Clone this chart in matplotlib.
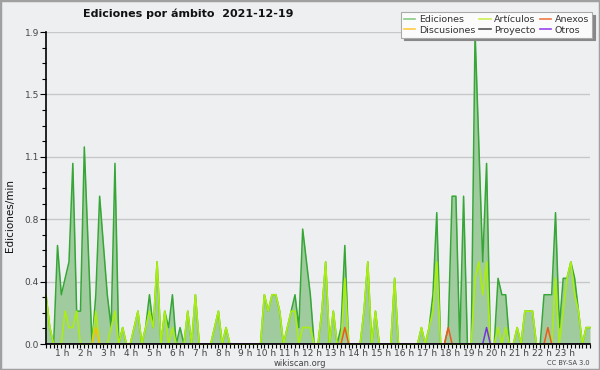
import numpy as np
import matplotlib.pyplot as plt
from matplotlib.patches import Rectangle
from matplotlib.lines import Line2D

plt.rcParams["font.family"] = "DejaVu Sans"

# =========================
# Data (edits per minute, 10-minute bins, 2021-12-19)
# =========================
total = [
    0.3, 0.1, 0, 0.6, 0.3, 0.4, 0.5, 1.1, 0.2, 0.2,
    1.2, 0.6, 0, 0.3, 0.9, 0.6, 0.3, 0.1, 1.1, 0,
    0.1, 0, 0, 0.1, 0.2, 0, 0.1, 0.3, 0.1, 0.5,
    0, 0.2, 0.1, 0.3, 0, 0.1, 0, 0.2, 0, 0.3,
    0, 0, 0, 0, 0.1, 0.2, 0, 0.1, 0, 0,
    0, 0, 0, 0, 0, 0, 0, 0.3, 0.2, 0.3,
    0.3, 0.2, 0, 0.1, 0.2, 0.3, 0.1, 0.7, 0.5, 0.3,
    0, 0, 0.2, 0.5, 0, 0.2, 0, 0.1, 0.6, 0,
    0, 0, 0, 0.2, 0.5, 0, 0.2, 0, 0, 0,
    0, 0.4, 0, 0, 0, 0, 0, 0, 0.1, 0,
    0.1, 0.3, 0.8, 0, 0, 0.1, 0.9, 0.9, 0, 0.9,
    0, 0, 1.9, 1.2, 0.5, 1.1, 0, 0, 0.4, 0.3,
    0.3, 0, 0, 0.1, 0, 0.2, 0.2, 0.2, 0, 0,
    0.3, 0.3, 0.3, 0.8, 0.1, 0.4, 0.4, 0.5, 0.4, 0.2,
    0, 0.1, 0.1,
]

articulos = [
    0.3, 0.1, 0, 0, 0, 0.2, 0.1, 0.1, 0.2, 0,
    0, 0, 0, 0.2, 0, 0, 0, 0.1, 0.2, 0,
    0.1, 0, 0, 0.1, 0.2, 0, 0.1, 0.2, 0.1, 0.5,
    0, 0.2, 0, 0.1, 0, 0, 0, 0.2, 0, 0.3,
    0, 0, 0, 0, 0.1, 0.2, 0, 0.1, 0, 0,
    0, 0, 0, 0, 0, 0, 0, 0.3, 0.2, 0.3,
    0.3, 0.2, 0, 0.1, 0.2, 0.2, 0, 0.1, 0.1, 0.1,
    0, 0, 0.2, 0.5, 0, 0.2, 0, 0, 0.4, 0,
    0, 0, 0, 0.2, 0.5, 0, 0.2, 0, 0, 0,
    0, 0.4, 0, 0, 0, 0, 0, 0, 0.1, 0,
    0.1, 0.2, 0.5, 0, 0, 0, 0, 0, 0, 0,
    0, 0, 0.4, 0.5, 0.3, 0.5, 0, 0, 0.1, 0,
    0.1, 0, 0, 0.1, 0, 0.2, 0.2, 0.2, 0, 0,
    0, 0, 0, 0.4, 0, 0.2, 0.4, 0.5, 0.3, 0.2,
    0, 0.1, 0.1,
]

# sparse series: bin index -> value
discusiones_bins, discusiones_vals = [13], [0.1]
anexos_bins, anexos_vals = [78, 105, 131], [0.1, 0.1, 0.1]
otros_bins, otros_vals = [115], [0.1]
proyecto_bins, proyecto_vals = [], []

hour_labels = [f"{h} h" for h in range(1, 24)]
y_ticks = [0.0, 0.38, 0.76, 1.14, 1.52, 1.9]


def sparse(bins, vals):
    arr = np.zeros(len(total))
    arr[bins] = vals
    return arr


x = np.arange(len(total)) / 6.0

# =========================
# Figure
# =========================
bg = "#eeeff1"
fig = plt.figure(figsize=(6, 3.7), dpi=100, facecolor=bg)
ax = fig.add_axes([46 / 600, 26 / 370, 544 / 600, 312 / 370], facecolor=bg)

ax.fill_between(x, 0, total, color="#9fcb9f", linewidth=0, zorder=1)
ax.plot(x, total, color="#36a636", linewidth=1.1, zorder=2, clip_on=False)
ax.plot(x, articulos, color="#aaee11", linewidth=1.2, zorder=3, clip_on=False)
ax.plot(x, sparse(discusiones_bins, discusiones_vals), color="#f5c300", linewidth=1.1, zorder=4)
ax.plot(x, sparse(proyecto_bins, proyecto_vals), color="#555555", linewidth=1.1, zorder=4)
ax.plot(x, sparse(anexos_bins, anexos_vals), color="#ee5a1a", linewidth=1.1, zorder=4)
ax.plot(x, sparse(otros_bins, otros_vals), color="#7733dd", linewidth=1.1, zorder=4)

ax.set_xlim(0, x[-1])
ax.set_ylim(0, 1.9)

ax.set_yticks(y_ticks)
ax.set_yticklabels([f"{v:.1f}" for v in y_ticks])
ax.set_yticks(np.arange(21) * 0.095, minor=True)
ax.set_xticks(range(1, 24))
ax.set_xticklabels(hour_labels)
ax.set_xticks(x, minor=True)
for lab in ax.get_xticklabels():
    lab.set_ha("right")

ax.tick_params(axis="both", which="both", direction="out", colors="black",
               labelcolor="#444444", labelsize=6.5, width=0.8)
ax.tick_params(axis="y", which="major", length=4, pad=1)
ax.tick_params(axis="y", which="minor", length=3)
ax.tick_params(axis="x", which="major", length=3, pad=0.5)
ax.tick_params(axis="x", which="minor", length=3)

ax.yaxis.grid(True, color="#c8c8c8", linewidth=1)
ax.set_axisbelow(True)
for s in ["top", "right"]:
    ax.spines[s].set_visible(False)
for s in ["left", "bottom"]:
    ax.spines[s].set_color("black")
    ax.spines[s].set_linewidth(1.2)
    ax.spines[s].set_zorder(6)

# =========================
# Texts
# =========================
fig.text(188 / 600, 1 - 14 / 370, "Ediciones por ámbito  2021-12-19",
         ha="center", va="center", fontsize=8, fontweight="bold", color="#111111")
fig.text(10 / 600, 1 - 216 / 370, "Ediciones/min", rotation=90,
         ha="center", va="center", fontsize=7.5, color="#111111")
fig.text(300 / 600, 1 - 363 / 370, "wikiscan.org", ha="center", va="center",
         fontsize=6, color="#444444")
fig.text(590 / 600, 1 - 363 / 370, "CC BY-SA 3.0", ha="right", va="center",
         fontsize=4.8, color="#444444")

# =========================
# Legend
# =========================
handles = [
    Line2D([], [], color="#88cc88", lw=1.2),
    Line2D([], [], color="#ffcc44", lw=1.2),
    Line2D([], [], color="#ccee55", lw=1.2),
    Line2D([], [], color="#555555", lw=1.2),
    Line2D([], [], color="#ee7744", lw=1.2),
    Line2D([], [], color="#9944ee", lw=1.2),
]
labels = ["Ediciones", "Discusiones", "Artículos", "Proyecto", "Anexos", "Otros"]
leg = fig.legend(handles, labels, ncol=3, loc="upper right",
                 bbox_to_anchor=(592 / 600, 1 - 12 / 370), fontsize=6.8,
                 frameon=True, fancybox=False, shadow={"color": "#888888", "alpha": 1},
                 handlelength=1.2, handletextpad=0.4, columnspacing=0.4,
                 labelspacing=0.2, borderpad=0.3, borderaxespad=0)
leg.get_frame().set_facecolor("#fbfbfb")
leg.get_frame().set_edgecolor("#aaaaaa")
leg.get_frame().set_linewidth(0.8)
for t in leg.get_texts():
    t.set_color("#333333")

fig.patches.append(Rectangle((0, 0), 1, 1, transform=fig.transFigure, fill=False,
                             edgecolor="#a0a0a0", linewidth=2.5))

fig.savefig("out.png", dpi=100, facecolor=bg)
